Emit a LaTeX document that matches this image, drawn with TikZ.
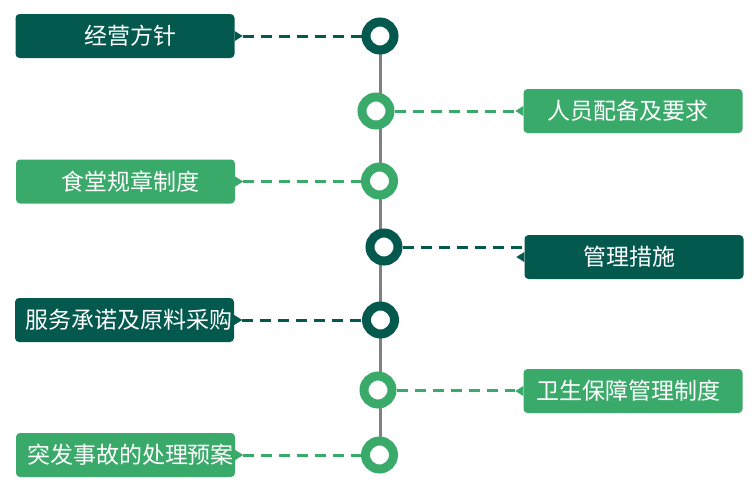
\documentclass[tikz,border=0pt]{standalone}
\usepackage{fontspec}
\setmainfont{Noto Sans CJK SC}
\definecolor{dkg}{HTML}{03594E}
\definecolor{ltg}{HTML}{3AAA6A}
\definecolor{spine}{HTML}{808080}
\begin{document}
\begin{tikzpicture}[x=1pt,y=-1pt,
  tag/.style={rectangle, rounded corners=4pt, minimum width=219pt, minimum height=44pt,
    inner sep=0pt, text=white, font=\fontsize{23pt}{27pt}\selectfont, fill=#1},
  ring/.style={circle, minimum size=28pt, inner sep=0pt, line width=9pt, draw=#1, fill=white},
  link/.style={draw=#1, line width=3pt, dash pattern=on 11pt off 7pt},
  spineline/.style={draw=spine, line width=3pt}]
\useasboundingbox (0,0) rectangle (756,498);

% circles positions
\coordinate (k1) at (380,36);
\coordinate (k2) at (376,111);
\coordinate (k3) at (379.5,181);
\coordinate (k4) at (384,247);
\coordinate (k5) at (380.5,320);
\coordinate (k6) at (378,390);
\coordinate (k7) at (379.5,455);

% spine
\draw[spineline] (k1) -- (k1 |- k7);

% boxes
\node[tag=dkg] (b1) at (125,36) {\hspace*{10pt}经营方针};
\node[tag=ltg] (b2) at (633,111) {人员配备及要求\hspace*{10pt}};
\node[tag=ltg] (b3) at (125.5,181.5) {\hspace*{10pt}食堂规章制度};
\node[tag=dkg] (b4) at (634,257) {管理措施\hspace*{10pt}};
\node[tag=dkg] (b5) at (124.5,320) {\hspace*{10pt}服务承诺及原料采购};
\node[tag=ltg] (b6) at (633,391) {卫生保障管理制度\hspace*{10pt}};
\node[tag=ltg] (b7) at (125.5,455) {\hspace*{10pt}突发事故的处理预案};

% pointers
\coordinate (p1) at ([xshift=8pt]b1.east);
\coordinate (p2) at ([xshift=-8pt]b2.west);
\coordinate (p3) at ([xshift=8pt]b3.east);
\coordinate (p4) at ([xshift=-8pt]b4.west);
\coordinate (p5) at ([xshift=8pt]b5.east);
\coordinate (p6) at ([xshift=-8pt]b6.west);
\coordinate (p7) at ([xshift=8pt]b7.east);
\fill[dkg] ([yshift=5pt]b1.east) -- (p1) -- ([yshift=-5pt]b1.east) -- cycle;
\fill[ltg] ([yshift=5pt]b2.west) -- (p2) -- ([yshift=-5pt]b2.west) -- cycle;
\fill[ltg] ([yshift=5pt]b3.east) -- (p3) -- ([yshift=-5pt]b3.east) -- cycle;
\fill[dkg] ([yshift=5pt]b4.west) -- (p4) -- ([yshift=-5pt]b4.west) -- cycle;
\fill[dkg] ([yshift=5pt]b5.east) -- (p5) -- ([yshift=-5pt]b5.east) -- cycle;
\fill[ltg] ([yshift=5pt]b6.west) -- (p6) -- ([yshift=-5pt]b6.west) -- cycle;
\fill[ltg] ([yshift=5pt]b7.east) -- (p7) -- ([yshift=-5pt]b7.east) -- cycle;

% circles
\node[ring=dkg] (c1) at (k1) {};
\node[ring=ltg] (c2) at (k2) {};
\node[ring=ltg] (c3) at (k3) {};
\node[ring=dkg] (c4) at (k4) {};
\node[ring=dkg] (c5) at (k5) {};
\node[ring=ltg] (c6) at (k6) {};
\node[ring=ltg] (c7) at (k7) {};

% dashed links
\draw[link=dkg] (p1) -- (c1.west |- p1);
\draw[link=ltg] (c2.east) -- (p2 |- c2.east);
\draw[link=ltg] (p3) -- (c3.west |- p3);
\draw[link=dkg] (c4.east) -- (b4.west |- c4.east);
\draw[link=dkg] (p5) -- (c5.west |- p5);
\draw[link=ltg] (c6.east) -- (p6 |- c6.east);
\draw[link=ltg] (p7) -- (c7.west |- p7);
\end{tikzpicture}
\end{document}
